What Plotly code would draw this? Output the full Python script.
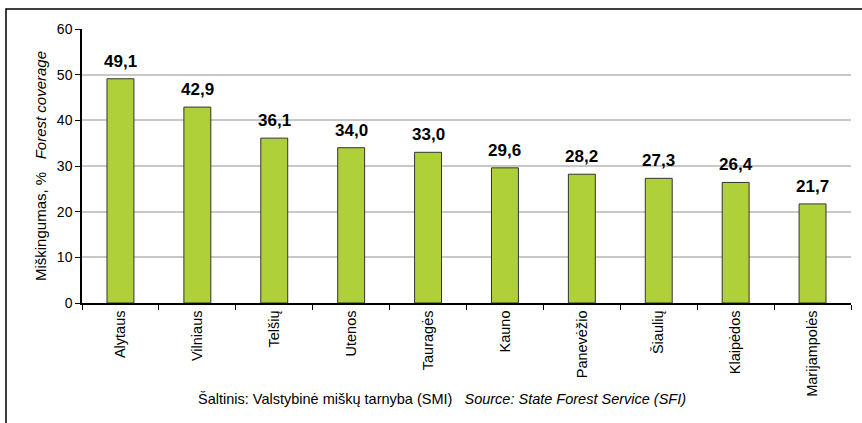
import plotly.graph_objects as go

categories = ["Alytaus", "Vilniaus", "Telšių", "Utenos", "Tauragės", "Kauno",
              "Panevėžio", "Šiaulių", "Klaipėdos", "Marijampolės"]
values = [49.1, 42.9, 36.1, 34.0, 33.0, 29.6, 28.2, 27.3, 26.4, 21.7]
value_labels = ["49,1", "42,9", "36,1", "34,0", "33,0", "29,6", "28,2", "27,3", "26,4", "21,7"]
y_ticks = [0, 10, 20, 30, 40, 50, 60]

FONT = "Liberation Sans, Arial, sans-serif"

fig = go.Figure()
fig.add_trace(go.Bar(
    x=categories, y=values, width=0.35,
    marker=dict(color="#b0d03a", line=dict(color="#333333", width=1)),
    hoverinfo="skip",
))

for c, v, t in zip(categories, values, value_labels):
    fig.add_annotation(x=c, y=v, text="<b>%s</b>" % t, showarrow=False,
                       yanchor="bottom", yshift=6,
                       font=dict(family=FONT, size=17, color="#000000"))

L, R, T, B = 82, 11, 29, 120
W, H = 862, 423
pw, ph = W - L - R, H - T - B

fig.add_annotation(
    xref="paper", yref="paper",
    x=(442 - L) / pw, y=-(399 - (H - B)) / ph,
    text="Šaltinis: Valstybinė miškų tarnyba (SMI)   <i>Source: State Forest Service (SFI)</i>",
    showarrow=False, xanchor="center", yanchor="middle",
    font=dict(family=FONT, size=14.5, color="#000000"))

fig.add_shape(type="rect", xref="paper", yref="paper",
              x0=(6 - L) / pw, x1=(W + 20 - L) / pw,
              y0=-(H + 20 - (H - B)) / ph, y1=1 + (T - 9) / ph,
              line=dict(color="#000000", width=1.5), fillcolor="rgba(0,0,0,0)",
              layer="below")

fig.update_layout(
    width=W, height=H,
    margin=dict(l=L, r=R, t=T, b=B, autoexpand=False),
    paper_bgcolor="white", plot_bgcolor="white",
    showlegend=False,
    font=dict(family=FONT, size=14, color="#000000"),
    bargap=0.65,
    xaxis=dict(
        tickangle=-90, tickson="boundaries", ticks="outside", ticklen=5,
        tickcolor="#000000", showline=True, linecolor="#000000", linewidth=1.5,
        showgrid=False, tickfont=dict(size=14.5), automargin=False,
    ),
    yaxis=dict(
        range=[0, 60], tickvals=y_ticks, ticks="outside", ticklen=5,
        tickcolor="#000000", showline=True, linecolor="#000000", linewidth=1.5,
        showgrid=True, gridcolor="#c8c8c8", gridwidth=1.5, zeroline=False,
        tickfont=dict(size=14), automargin=False,
        title=dict(text="Miškingumas, %   <i>Forest coverage</i>",
                   font=dict(size=15), standoff=7),
    ),
)

fig.write_html("out.html", config={"displayModeBar": False},
               post_script="document.body.style.margin='0';document.body.style.overflow='hidden';")
